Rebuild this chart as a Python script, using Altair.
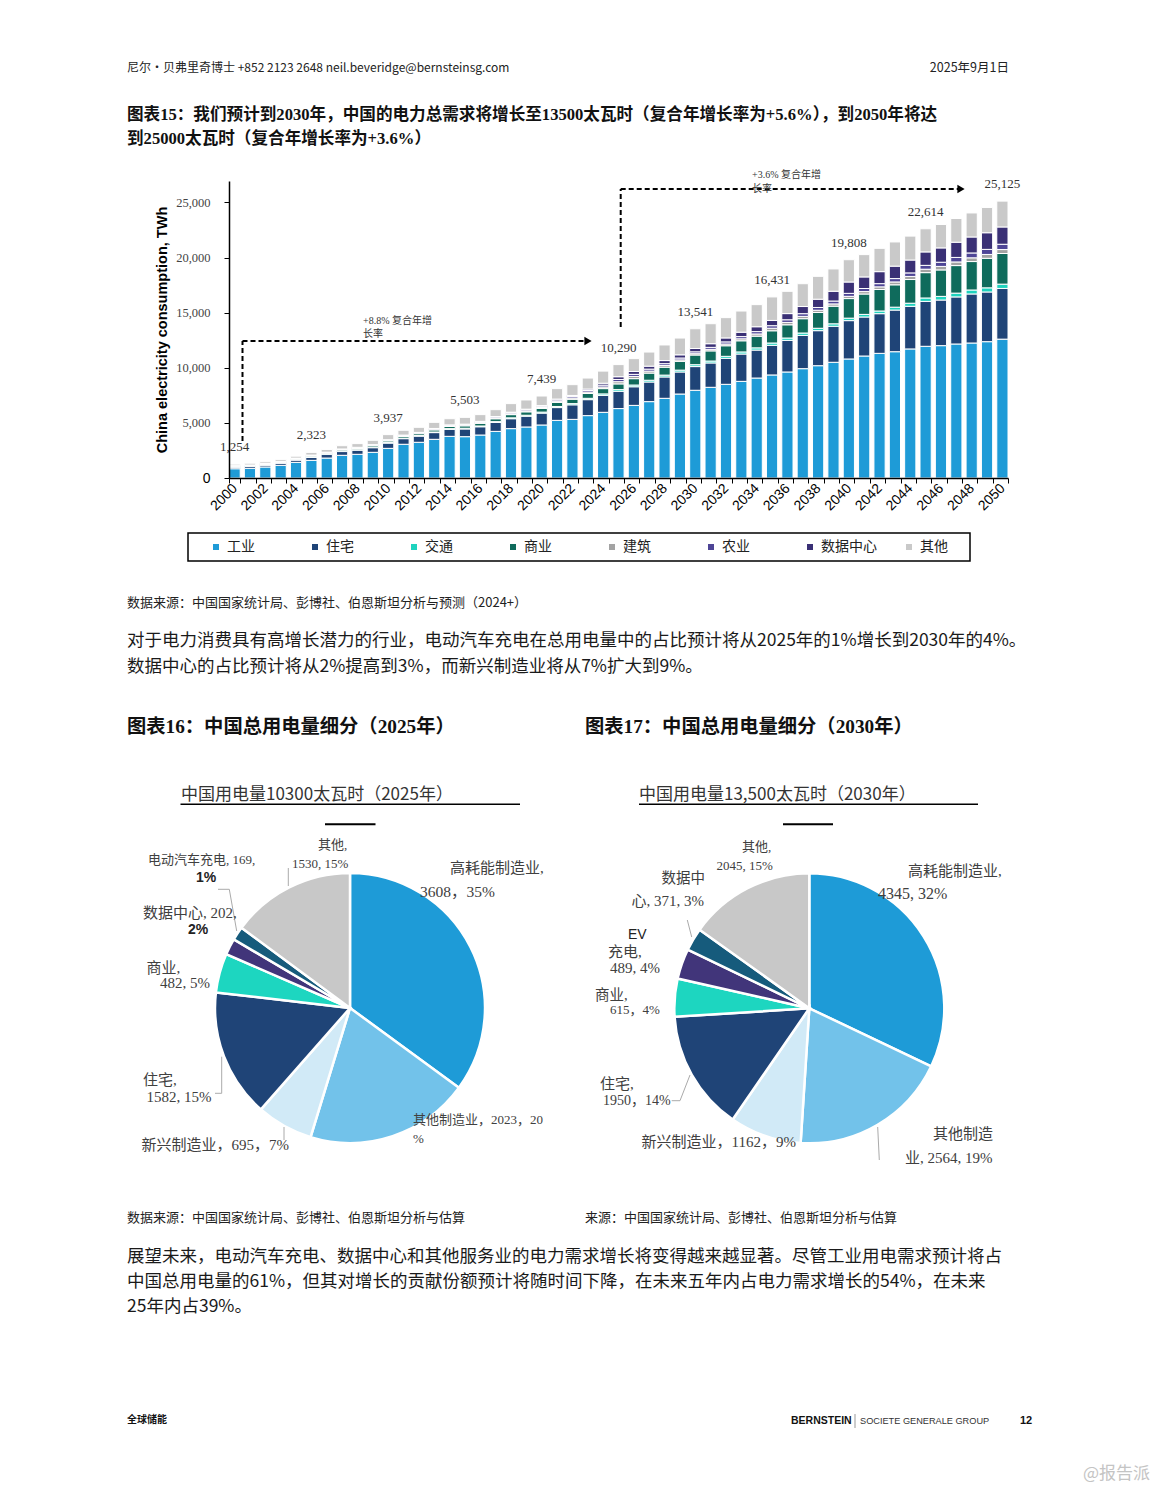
import altair as alt
import pandas as pd

# page coordinates of the bar-chart plot origin
OX, OY = 229, 181
PW, PH = 779, 297

SANS = "Noto Sans CJK SC"
SERIF = "Liberation Serif, Noto Sans CJK SC"
LAT = "Liberation Sans"

# ---------------- bar chart data (TWh) ----------------
years = list(range(2000, 2051))
series = ["工业", "住宅", "交通", "商业", "建筑", "农业", "数据中心", "其他"]
series_colors = ["#1E9BD7", "#1F4477", "#1ED3BE", "#0F6B5C", "#A3A3A3", "#4E4596", "#3A3075", "#C9C9C9"]

industry = [840, 880, 1000, 1150, 1420, 1600, 1810, 2060, 2150, 2330,
            2690, 3060, 3240, 3510, 3780, 3750, 3900, 4230, 4480, 4630,
            4810, 5230, 5320, 5660, 5960, 6300, 6590, 6930, 7230, 7620,
            7960, 8230, 8500, 8770, 9070, 9350, 9620, 9920, 10190, 10500,
            10800, 11070, 11310, 11460, 11710, 11950, 12010, 12160, 12250, 12370,
            12600]
residential = [150, 160, 170, 200, 210, 280, 320, 340, 380, 420,
               480, 510, 560, 610, 640, 700, 750, 810, 900, 980,
               1080, 1160, 1320, 1450, 1540, 1570, 1690, 1780, 1940, 2000,
               2150, 2210, 2360, 2480, 2540, 2690, 2870, 3020, 3180, 3270,
               3480, 3540, 3600, 3780, 3870, 4075, 4140, 4270, 4450, 4510,
               4600]
transport = [20, 22, 24, 26, 28, 30, 32, 35, 38, 40,
             45, 48, 50, 55, 60, 65, 70, 75, 80, 85,
             90, 100, 110, 120, 130, 150, 155, 160, 165, 168,
             170, 175, 180, 190, 200, 210, 212, 215, 218, 222,
             225, 235, 245, 260, 280, 310, 330, 345, 360, 375,
             390]
commercial = [50, 55, 58, 65, 70, 90, 95, 110, 120, 135,
              150, 160, 170, 190, 200, 220, 240, 260, 290, 310,
              330, 370, 400, 440, 480, 520, 580, 650, 720, 800,
              880, 920, 960, 1010, 1060, 1110, 1200, 1300, 1430, 1600,
              1775, 1850, 1950, 2030, 2150, 2300, 2400, 2500, 2580, 2680,
              2780]
construction = [20, 22, 24, 26, 28, 30, 32, 35, 38, 40,
                45, 48, 50, 55, 60, 65, 70, 75, 80, 85,
                90, 100, 110, 130, 150, 200, 200, 180, 150, 130,
                120, 140, 160, 180, 200, 230, 215, 210, 205, 205,
                205, 220, 240, 260, 280, 310, 320, 330, 340, 350,
                360]
agriculture = [40, 42, 44, 46, 48, 50, 52, 55, 58, 60,
               65, 68, 70, 75, 80, 85, 90, 95, 100, 105,
               110, 120, 130, 140, 170, 200, 190, 180, 170, 170,
               170, 180, 190, 200, 215, 230, 240, 245, 250, 260,
               270, 280, 290, 305, 320, 350, 380, 410, 440, 460,
               480]
datacenter = [0, 0, 0, 0, 0, 0, 0, 0, 0, 0,
              0, 0, 0, 0, 0, 0, 20, 30, 40, 50,
              60, 80, 100, 130, 170, 250, 260, 270, 280, 290,
              300, 330, 360, 400, 440, 480, 560, 650, 750, 890,
              1030, 1050, 1090, 1130, 1170, 1220, 1300, 1380, 1450, 1510,
              1570]
other = [134, 159, 150, 177, 176, 243, 249, 295, 336, 395,
         462, 436, 460, 555, 560, 618, 610, 625, 780, 835,
         869, 950, 980, 1000, 1100, 1100, 1165, 1280, 1415, 1522,
         1791, 1815, 1840, 1920, 2005, 2131, 2023, 2070, 2077, 2023,
         2023, 2025, 2115, 2195, 2170, 2099, 2120, 2155, 2180, 2295,
         2345]
bar_values = [industry, residential, transport, commercial, construction,
              agriculture, datacenter, other]

label_years = [2000, 2005, 2010, 2015, 2020, 2025, 2030, 2035, 2040, 2045, 2050]
label_totals = [1254, 2323, 3937, 5503, 7439, 10290, 13541, 16431, 19808, 22614, 25125]
y_ticks = [0, 5000, 10000, 15000, 20000, 25000]

# ---------------- pie data ----------------
pie_colors = ["#1E9BD7", "#72C2EA", "#D1EAF7", "#1F4477", "#1DD6C0", "#41357A", "#165B7C", "#C8C8C8"]
pie1_names = ["高耗能制造业", "其他制造业", "新兴制造业", "住宅", "商业", "数据中心", "电动汽车充电", "其他"]
pie1_values = [3608, 2023, 695, 1582, 482, 202, 169, 1530]
pie1_pct = [35, 20, 7, 15, 5, 2, 1, 15]
pie2_names = ["高耗能制造业", "其他制造业", "新兴制造业", "住宅", "商业", "EV充电", "数据中心", "其他"]
pie2_values = [4345, 2564, 1162, 1950, 615, 489, 371, 2045]
pie2_pct = [32, 19, 9, 14, 4, 4, 3, 15]

# ---------------- tables ----------------
rows = []
for k, (name, vals) in enumerate(zip(series, bar_values)):
    for y, v in zip(years, vals):
        rows.append({"year": y, "series": name, "k": k, "value": v})
df_bars = pd.DataFrame(rows)
df_tot = pd.DataFrame({"year": label_years, "total": label_totals})
one = pd.DataFrame({"_": [0]})

YTITLE = "China electricity consumption, TWh"

x_axis = alt.Axis(labelAngle=-45, labelAlign="right", labelBaseline="middle",
                  labelFont=LAT, labelFontSize=14, labelColor="black",
                  labelPadding=3, labelOverlap=False,
                  labelExpr="datum.value % 2 == 0 ? datum.label : ''",
                  tickBand="extent", tickSize=5, tickColor="black",
                  domainColor="black", domainWidth=1.5, grid=False, zindex=1)
y_axis = alt.Axis(values=y_ticks, format=",d",
                  labelExpr="format(datum.value, ',d')",
                  labelFont={"condition": {"test": "datum.value === 0", "value": LAT}, "value": "Liberation Serif"},
                  labelFontSize={"condition": {"test": "datum.value === 0", "value": 14}, "value": 12.5},
                  labelColor={"condition": {"test": "datum.value === 0", "value": "black"}, "value": "#444"},
                  labelPadding=14, tickSize=5, tickColor="black",
                  domainColor="black", domainWidth=1.5, grid=False, zindex=1,
                  titleFont=LAT, titleFontSize=14.5, titleFontWeight="bold",
                  titleColor="black", titlePadding=6)

bars = alt.Chart(df_bars).mark_bar(stroke="white", strokeWidth=1).encode(
    x=alt.X("year:O", title=None,
            scale=alt.Scale(paddingInner=0.27, paddingOuter=0), axis=x_axis),
    y=alt.Y("value:Q", stack="zero", title=YTITLE,
            scale=alt.Scale(domain=[0, 26950], nice=False, zero=True), axis=y_axis),
    color=alt.Color("series:N",
                    scale=alt.Scale(domain=series, range=series_colors),
                    legend=alt.Legend(orient="none", legendX=209 - OX, legendY=540 - OY,
                                      direction="horizontal", columns=8, gridAlign="all",
                                      columnPadding=25, symbolType="square", symbolSize=36,
                                      symbolStrokeWidth=0, labelFont=SANS, labelFontSize=14,
                                      labelColor="#222", labelOffset=4, padding=0, title=None)),
    order=alt.Order("k:Q", sort="ascending"),
)

totals = alt.Chart(df_tot).mark_text(dy=-17, font="Liberation Serif", fontSize=13, color="#333").encode(
    x=alt.X("year:O", title=None, axis=x_axis),
    y=alt.Y("total:Q", title=YTITLE, axis=y_axis),
    text=alt.Text("total:Q", format=","),
)


def pie(values, cx, cy):
    d = pd.DataFrame({"k": list(range(len(values))), "value": values})
    return alt.Chart(d).mark_arc(radius=135, stroke="white", strokeWidth=2.5).encode(
        theta=alt.Theta("value:Q", stack=True),
        color=alt.Color("k:N", scale=alt.Scale(domain=list(range(8)), range=pie_colors), legend=None),
        order=alt.Order("k:Q", sort="ascending"),
        x=alt.value(cx - OX), y=alt.value(cy - OY),
    )


def T(px, py, s, size=12, font=SANS, weight="normal", color="#222", align="left"):
    return alt.Chart(one).mark_text(text=s, fontSize=size, font=font, fontWeight=weight,
                                    color=color, align=align, baseline="middle").encode(
        x=alt.value(px - OX), y=alt.value(py - OY))


def L(x1, y1, x2, y2, color="black", w=1.0, dash=None):
    kw = dict(color=color, strokeWidth=w)
    if dash:
        kw["strokeDash"] = dash
    return alt.Chart(one).mark_rule(**kw).encode(
        x=alt.value(x1 - OX), y=alt.value(y1 - OY), x2=alt.value(x2 - OX), y2=alt.value(y2 - OY))


def arrow(px, py):
    return alt.Chart(one).mark_point(shape="triangle-right", filled=True, size=70,
                                     color="black", opacity=1).encode(
        x=alt.value(px - OX), y=alt.value(py - OY))


# invisible page frame that fixes the page origin
bg = alt.Chart(one).mark_rect(color="white", opacity=0).encode(
    x=alt.value(8 - OX), x2=alt.value(1150 - OX), y=alt.value(8 - OY), y2=alt.value(1484 - OY))

legend_box = alt.Chart(one).mark_rect(fillOpacity=0, stroke="black", strokeWidth=1.5).encode(
    x=alt.value(188 - OX), x2=alt.value(970 - OX), y=alt.value(533 - OY), y2=alt.value(561 - OY))

texts = [
    # header
    T(127, 68, "尼尔・贝弗里奇博士 +852 2123 2648 neil.beveridge@bernsteinsg.com", size=12, color="#222"),
    T(1009, 68, "2025年9月1日", size=12.5, color="#222", align="right"),
    T(127, 115, "图表15：我们预计到2030年，中国的电力总需求将增长至13500太瓦时（复合年增长率为+5.6%），到2050年将达",
      size=16.6, font=SERIF, weight="bold", color="#111"),
    T(127, 139, "到25000太瓦时（复合年增长率为+3.6%）", size=16.6, font=SERIF, weight="bold", color="#111"),
    # bar annotations
    T(363, 320.5, "+8.8% 复合年增", size=10, font=SERIF, color="#333"),
    T(363, 334, "长率", size=10, font=SERIF, color="#333"),
    T(752, 175, "+3.6% 复合年增", size=10, font=SERIF, color="#333"),
    T(752, 188.5, "长率", size=10, font=SERIF, color="#333"),
    # source and paragraph
    T(127, 603, "数据来源：中国国家统计局、彭博社、伯恩斯坦分析与预测（2024+）", size=13, color="#222"),
    T(127, 641, "对于电力消费具有高增长潜力的行业，电动汽车充电在总用电量中的占比预计将从2025年的1%增长到2030年的4%。",
      size=17.5, color="#1a1a1a"),
    T(127, 667, "数据中心的占比预计将从2%提高到3%，而新兴制造业将从7%扩大到9%。", size=17.5, color="#1a1a1a"),
    T(127, 727, "图表16：中国总用电量细分（2025年）", size=19.3, font=SERIF, weight="bold", color="#111"),
    T(585, 727, "图表17：中国总用电量细分（2030年）", size=19.3, font=SERIF, weight="bold", color="#111"),
    # pie titles
    T(181, 795, "中国用电量10300太瓦时（2025年）", size=17, color="#333"),
    T(639, 795, "中国用电量13,500太瓦时（2030年）", size=17, color="#333"),
    # pie 1 labels
    T(318, 845, "其他,", size=13, font=SERIF, color="#404040"),
    T(292, 864, f"{pie1_values[7]}, {pie1_pct[7]}%", size=13, font=SERIF, color="#404040"),
    T(148, 860, f"电动汽车充电, {pie1_values[6]},", size=13, font=SERIF, color="#404040"),
    T(196, 878, f"{pie1_pct[6]}%", size=14, font=LAT, weight="bold", color="#222"),
    T(143, 912.7, f"数据中心, {pie1_values[5]},", size=15, font=SERIF, color="#404040"),
    T(188, 930, f"{pie1_pct[5]}%", size=14, font=LAT, weight="bold", color="#222"),
    T(146.5, 968, "商业,", size=15, font=SERIF, color="#404040"),
    T(160, 983, f"{pie1_values[4]}, {pie1_pct[4]}%", size=15, font=SERIF, color="#404040"),
    T(143, 1080, "住宅,", size=15, font=SERIF, color="#404040"),
    T(146.5, 1097, f"{pie1_values[3]}, {pie1_pct[3]}%", size=15, font=SERIF, color="#404040"),
    T(141.5, 1145, f"新兴制造业，{pie1_values[2]}，{pie1_pct[2]}%", size=15, font=SERIF, color="#404040"),
    T(413, 1120, f"其他制造业，{pie1_values[1]}，{pie1_pct[1]}", size=13, font=SERIF, color="#404040"),
    T(413, 1138.5, "%", size=13, font=SERIF, color="#404040"),
    T(450, 868.3, "高耗能制造业,", size=15, font=SERIF, color="#404040"),
    T(420, 891.7, f"{pie1_values[0]}，{pie1_pct[0]}%", size=15.5, font=SERIF, color="#404040"),
    # pie 2 labels
    T(742, 846.7, "其他,", size=13, font=SERIF, color="#404040"),
    T(716.5, 866, f"{pie2_values[7]}, {pie2_pct[7]}%", size=13, font=SERIF, color="#404040"),
    T(661.5, 879, "数据中", size=14.5, font=SERIF, color="#404040"),
    T(631.5, 900.7, f"心, {pie2_values[6]}, {pie2_pct[6]}%", size=15, font=SERIF, color="#404040"),
    T(628, 935, "EV", size=14, font=LAT, color="#222"),
    T(608, 951.7, "充电,", size=15, font=SERIF, color="#404040"),
    T(610, 968.3, f"{pie2_values[5]}, {pie2_pct[5]}%", size=15, font=SERIF, color="#404040"),
    T(595, 996, "商业,", size=14.5, font=SERIF, color="#404040"),
    T(610, 1010, f"{pie2_values[4]}，{pie2_pct[4]}%", size=13, font=SERIF, color="#404040"),
    T(600, 1084, "住宅,", size=15, font=SERIF, color="#404040"),
    T(603, 1100.7, f"{pie2_values[3]}，{pie2_pct[3]}%", size=14, font=SERIF, color="#404040"),
    T(641.5, 1142.3, f"新兴制造业，{pie2_values[2]}，{pie2_pct[2]}%", size=15, font=SERIF, color="#404040"),
    T(933, 1134.3, "其他制造", size=15, font=SERIF, color="#404040"),
    T(905, 1157.7, f"业, {pie2_values[1]}, {pie2_pct[1]}%", size=15, font=SERIF, color="#404040"),
    T(908, 870.7, "高耗能制造业,", size=15, font=SERIF, color="#404040"),
    T(878, 894.3, f"{pie2_values[0]}, {pie2_pct[0]}%", size=16, font=SERIF, color="#404040"),
    # sources & paragraph 2
    T(127, 1218, "数据来源：中国国家统计局、彭博社、伯恩斯坦分析与估算", size=13, color="#222"),
    T(585, 1218, "来源：中国国家统计局、彭博社、伯恩斯坦分析与估算", size=13, color="#222"),
    T(127, 1257, "展望未来，电动汽车充电、数据中心和其他服务业的电力需求增长将变得越来越显著。尽管工业用电需求预计将占",
      size=17.5, color="#1a1a1a"),
    T(127, 1282, "中国总用电量的61%，但其对增长的贡献份额预计将随时间下降，在未来五年内占电力需求增长的54%，在未来",
      size=17.5, color="#1a1a1a"),
    T(127, 1307, "25年内占39%。", size=17.5, color="#1a1a1a"),
    # footer
    T(127, 1420, "全球储能", size=10, weight="bold", color="#111"),
    T(791, 1421, "BERNSTEIN", size=10.5, font=LAT, weight="bold", color="#111"),
    T(860, 1421, "SOCIETE GENERALE GROUP", size=9.2, font=LAT, color="#333"),
    T(1026, 1421, "12", size=11, font=LAT, weight="bold", color="#111", align="center"),
    T(1150, 1474, "@报告派", size=17, color="#c4c4c4", align="right"),
]

lines = [
    # bar chart arrows
    L(242.5, 441, 242.5, 341, w=2, dash=[5, 3]),
    L(242.5, 341, 585, 341, w=2, dash=[5, 3]),
    L(620.7, 327, 620.7, 189, w=2, dash=[5, 3]),
    L(620.7, 189, 958, 189, w=2, dash=[5, 3]),
    # pie title rules
    L(180.5, 804.3, 520, 804.3, w=1.5),
    L(325, 824.3, 375.5, 824.3, w=2),
    L(639, 804.3, 978, 804.3, w=1.5),
    L(783, 824.3, 833, 824.3, w=2),
    # pie 1 leader lines
    L(288.3, 868, 288.3, 886, color="#aaa", w=1),
    L(218, 889.3, 229.3, 889.3, color="#aaa", w=1),
    L(229.3, 889.3, 236.7, 931, color="#aaa", w=1),
    L(215, 1093.3, 221.7, 1093.3, color="#aaa", w=1),
    L(221.7, 1093.3, 221.7, 1056.7, color="#aaa", w=1),
    L(284, 1127, 284, 1140, color="#aaa", w=1),
    # pie 2 leader lines
    L(687.3, 920, 691.7, 937, color="#aaa", w=1),
    L(671.7, 1100.7, 680, 1100.7, color="#aaa", w=1),
    L(680, 1100.7, 690, 1075, color="#aaa", w=1),
    L(877.7, 1127, 879.3, 1160, color="#aaa", w=1),
    # footer separator
    L(855, 1414, 855, 1428, color="#999", w=1),
]

chart = alt.layer(
    bg, bars, totals, legend_box,
    pie(pie1_values, 350, 1008), pie(pie2_values, 809.3, 1008.3),
    *lines, arrow(588, 341), arrow(961, 189), *texts,
).resolve_scale(
    color="independent", theta="independent"
).properties(
    width=PW, height=PH, padding=0
).configure_view(stroke=None)

chart.save("out.html", embed_options={"renderer": "svg", "actions": False})
